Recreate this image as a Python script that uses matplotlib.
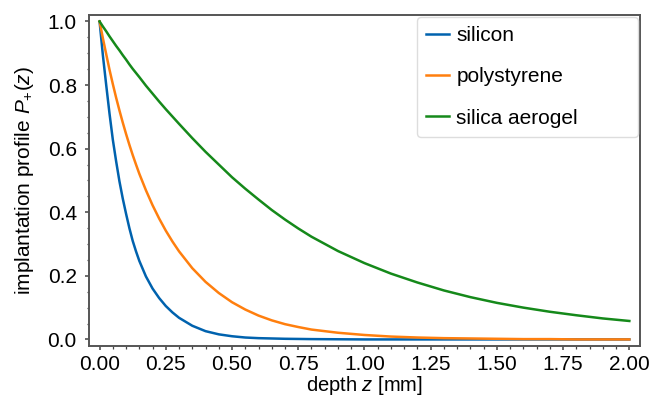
import matplotlib
matplotlib.use("Agg")
import matplotlib.pyplot as plt
from matplotlib.ticker import MultipleLocator, AutoMinorLocator

# Depth grid [mm] and implantation profiles
depth = [0.0, 0.0125, 0.025, 0.0375, 0.05, 0.0625, 0.075, 0.0875, 0.1,
         0.1125, 0.125, 0.1375, 0.15, 0.175, 0.2, 0.225, 0.25, 0.275, 0.3,
         0.35, 0.4, 0.45, 0.5, 0.55, 0.6, 0.65, 0.7, 0.75, 0.8, 0.9, 1.0,
         1.1, 1.2, 1.3, 1.4, 1.5, 1.6, 1.7, 1.8, 1.9, 2.0]
silicon = [1.0, 0.893, 0.80, 0.71, 0.628, 0.56, 0.497, 0.443, 0.395,
           0.35, 0.31, 0.277, 0.247, 0.198, 0.16, 0.13, 0.105, 0.085, 0.068,
           0.043, 0.026, 0.016, 0.010, 0.006, 0.004, 0.003, 0.002, 0.0015,
           0.001, 0.0005, 0.0,
           0.0, 0.0, 0.0, 0.0, 0.0, 0.0, 0.0, 0.0, 0.0, 0.0]
polystyrene = [1.0, 0.947, 0.897, 0.848, 0.803, 0.76, 0.72, 0.682, 0.646,
               0.612, 0.58, 0.55, 0.521, 0.469, 0.422, 0.38, 0.342, 0.308,
               0.277, 0.224, 0.181, 0.146, 0.117, 0.094, 0.075, 0.06, 0.048,
               0.039, 0.031, 0.021, 0.014,
               0.009, 0.006, 0.004, 0.003, 0.002, 0.001, 0.001, 0.0, 0.0, 0.0]
aerogel = [1.0, 0.984, 0.969, 0.953, 0.938, 0.923, 0.909, 0.894, 0.88,
           0.865, 0.851, 0.838, 0.825, 0.798, 0.773, 0.748, 0.724, 0.701,
           0.678, 0.633, 0.59, 0.55, 0.51, 0.474, 0.44, 0.407, 0.377, 0.349,
           0.323, 0.278, 0.24,
           0.207, 0.179, 0.154, 0.133, 0.115, 0.10, 0.087, 0.076, 0.066, 0.058]

labels = ["silicon", "polystyrene", "silica aerogel"]
colors = ["#0062ae", "#ff7f0e", "#15891a"]

plt.rcParams["font.family"] = ["Liberation Sans", "DejaVu Sans"]
plt.rcParams["mathtext.fontset"] = "custom"
plt.rcParams["mathtext.rm"] = "Liberation Sans"
plt.rcParams["mathtext.it"] = "Liberation Sans:italic"
plt.rcParams["font.size"] = 15

fig = plt.figure(figsize=(6.51, 3.97), dpi=100)
ax = fig.add_axes([0.1367, 0.129, 0.8463, 0.833])

for vals, lab, col in zip([silicon, polystyrene, aerogel], labels, colors):
    ax.plot(depth, vals, color=col, lw=1.8, label=lab)

ax.set_xlim(-0.04, 2.04)
ax.set_ylim(-0.02, 1.02)
ax.xaxis.set_major_locator(MultipleLocator(0.25))
ax.yaxis.set_major_locator(MultipleLocator(0.2))
ax.xaxis.set_minor_locator(AutoMinorLocator(5))
ax.yaxis.set_minor_locator(AutoMinorLocator(4))
ax.tick_params(which="major", length=2.8, width=1.1, color="#444444")
ax.tick_params(which="minor", length=1.8, width=0.9, color="#444444")
ax.tick_params(axis="y", which="major", pad=6)
ax.tick_params(axis="x", which="major", pad=4)
for s in ax.spines.values():
    s.set_color("#555555")
    s.set_linewidth(1.4)

# the reference crops the bottom of this label; pull it up so it fits
ax.set_xlabel("depth $z$ [mm]", labelpad=0, fontsize=14.5)
ax.set_ylabel("implantation profile $P_{+}(z)$", labelpad=8)

leg = ax.legend(loc="upper left", bbox_to_anchor=(0.595, 0.0, 0.402, 0.995),
                mode="expand", handlelength=1.1, handletextpad=0.35,
                labelspacing=1.07, borderpad=0.45, borderaxespad=0.0,
                fancybox=True, framealpha=1.0, edgecolor="#dddddd")

fig.savefig("out.png", dpi=100)
